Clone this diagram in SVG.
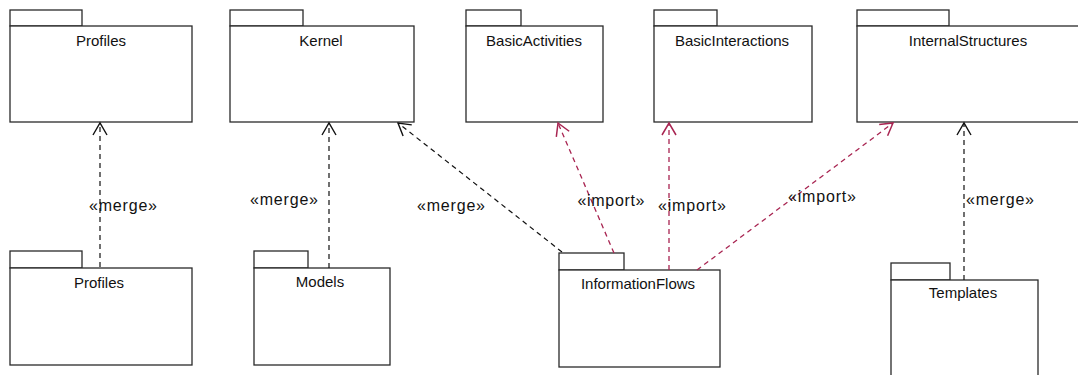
<svg xmlns="http://www.w3.org/2000/svg" width="1078" height="375" viewBox="0 0 1078 375">
<style>
.pkg{fill:#fff;stroke:#2a2a2a;stroke-width:1.3}
.name{font-family:"Liberation Sans",Arial,sans-serif;font-size:15px;fill:#111;text-anchor:middle}
.lbl{font-family:"Liberation Sans",Arial,sans-serif;font-size:16px;fill:#111;text-anchor:middle}
.dep{fill:none;stroke:#111;stroke-width:1.2;stroke-dasharray:5 4}
.imp{fill:none;stroke:#a82451;stroke-width:1.3;stroke-dasharray:5 4}
</style>
<defs>
<marker id="ah" markerUnits="userSpaceOnUse" markerWidth="16" markerHeight="18" viewBox="-14 -9 16 18" refX="0" refY="0" orient="auto">
<path d="M-12,-7 L0,0 L-12,7" fill="none" stroke="#111" stroke-width="1.4"/>
</marker>
<marker id="ahr" markerUnits="userSpaceOnUse" markerWidth="16" markerHeight="18" viewBox="-14 -9 16 18" refX="0" refY="0" orient="auto">
<path d="M-12,-7 L0,0 L-12,7" fill="none" stroke="#a82451" stroke-width="1.5"/>
</marker>
</defs>
<rect width="1078" height="375" fill="#fff"/>
<g id="pkg-profiles-top">
<rect class="pkg" x="10" y="10" width="72" height="16"/>
<rect class="pkg" x="10" y="26" width="182" height="96"/>
<text class="name" x="101" y="46">Profiles</text>
</g>
<g id="pkg-kernel">
<rect class="pkg" x="230" y="10" width="73" height="16"/>
<rect class="pkg" x="230" y="26" width="184" height="96"/>
<text class="name" x="321" y="46">Kernel</text>
</g>
<g id="pkg-basicactivities">
<rect class="pkg" x="466" y="10" width="55" height="16"/>
<rect class="pkg" x="466" y="26" width="137" height="96"/>
<text class="name" x="534" y="46">BasicActivities</text>
</g>
<g id="pkg-basicinteractions">
<rect class="pkg" x="654" y="10" width="63" height="16"/>
<rect class="pkg" x="654" y="26" width="158" height="96"/>
<text class="name" x="732" y="46">BasicInteractions</text>
</g>
<g id="pkg-internalstructures">
<rect class="pkg" x="857" y="10" width="92" height="16"/>
<rect class="pkg" x="857" y="26" width="224" height="96"/>
<text class="name" x="968" y="46">InternalStructures</text>
</g>
<g id="pkg-profiles-bottom">
<rect class="pkg" x="10" y="251" width="72" height="17"/>
<rect class="pkg" x="10" y="268" width="182" height="97"/>
<text class="name" x="99" y="288">Profiles</text>
</g>
<g id="pkg-models">
<rect class="pkg" x="254" y="251" width="54" height="17"/>
<rect class="pkg" x="254" y="268" width="136" height="97"/>
<text class="name" x="320" y="287">Models</text>
</g>
<g id="pkg-informationflows">
<rect class="pkg" x="559" y="253" width="65" height="17"/>
<rect class="pkg" x="559" y="270" width="161" height="97"/>
<text class="name" x="638" y="289">InformationFlows</text>
</g>
<g id="pkg-templates">
<rect class="pkg" x="891" y="263" width="59" height="17"/>
<rect class="pkg" x="891" y="280" width="147" height="97"/>
<text class="name" x="963" y="298">Templates</text>
</g>
<g id="connectors">
<path class="dep" d="M100,267 L100,123" marker-end="url(#ah)"/>
<path class="dep" d="M329,268 L329,123" marker-end="url(#ah)"/>
<path class="dep" d="M562,252 L398,123" marker-end="url(#ah)"/>
<path class="imp" d="M614,253 L558,123" marker-end="url(#ahr)"/>
<path class="imp" d="M669,270 L669,123" marker-end="url(#ahr)"/>
<path class="imp" d="M697,270 L893,123" marker-end="url(#ahr)"/>
<path class="dep" d="M964,280 L964,123" marker-end="url(#ah)"/>
<text class="lbl" x="123" y="211" textLength="68" lengthAdjust="spacing">«merge»</text>
<text class="lbl" x="284" y="205" textLength="68" lengthAdjust="spacing">«merge»</text>
<text class="lbl" x="451" y="211" textLength="68" lengthAdjust="spacing">«merge»</text>
<text class="lbl" x="611" y="206" textLength="67" lengthAdjust="spacing">«import»</text>
<text class="lbl" x="692" y="211" textLength="68" lengthAdjust="spacing">«import»</text>
<text class="lbl" x="822" y="202" textLength="68" lengthAdjust="spacing">«import»</text>
<text class="lbl" x="1000" y="205" textLength="68" lengthAdjust="spacing">«merge»</text>
</g>
</svg>
